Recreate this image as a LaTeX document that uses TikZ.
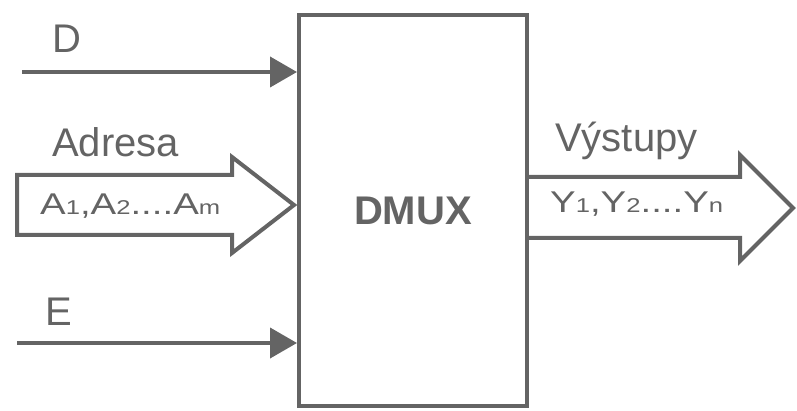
\documentclass[tikz,border=0pt]{standalone}
\usepackage{fontspec}
\setmainfont{Liberation Sans}
\usepackage{graphicx}
\usetikzlibrary{arrows.meta,positioning}
\definecolor{ink}{RGB}{100,100,100}
\newcommand{\lo}[1]{{\fontsize{20}{20}\selectfont #1}}

\begin{document}
\begin{tikzpicture}
[x=1pt, y=1pt, every node/.style={inner sep=0pt, text=ink},
 wire/.style={line width=4pt, draw=ink, -{Triangle[length=27pt,width=30pt]}},
 fat/.style={line width=4pt, draw=ink, line join=miter},
 lbl/.style={font=\fontsize{40}{40}\selectfont, anchor=base west},
 lst/.style={font=\fontsize{30}{30}\selectfont, anchor=base west}]
\useasboundingbox (0,0) rectangle (797,-411);
\node (dmux) [rectangle, draw=ink, line width=4pt, minimum width=228pt, minimum height=391pt, font=\fontsize{40}{40}\selectfont\bfseries] at (413,-210.5) {DMUX};
% inputs
\coordinate (d0) at (22,-72);
\coordinate (e0) at (17,-343);
\draw [wire] (d0) -- (d0 -| dmux.west);
\draw [wire] (e0) -- (e0 -| dmux.west);
\node (dlab) [lbl] at (52,-53) {D};
\node (elab) [lbl] at (45,-325) {E};
% address bus
\coordinate (alev) at (0,-205);
\coordinate (atip) at ([xshift=-3pt]dmux.west |- alev);
\draw [fat] (17,-175) -- (232,-175) -- (232,-157) -- (atip) -- (232,-253) -- (232,-235) -- (17,-235) -- cycle;
\node (adr) [lbl] at (52,-157) {Adresa};
\node (alist) [lst] at (40,-215) {\scalebox{1.28}[1]{A\lo1,A\lo2....A\lo m}};
% outputs
\coordinate (o1) at (0,-177);
\coordinate (o2) at (0,-238);
\draw [fat] (dmux.east |- o1) -- (740,-177) -- (740,-155) -- (793,-208) -- (740,-261) -- (740,-238) -- (dmux.east |- o2);
\node (out) [lbl] at (555,-152) {Výstupy};
\node (ylist) [lst] at (550,-213) {\scalebox{1.28}[1]{Y\lo1,Y\lo2....Y\lo n}};
\end{tikzpicture}
\end{document}
